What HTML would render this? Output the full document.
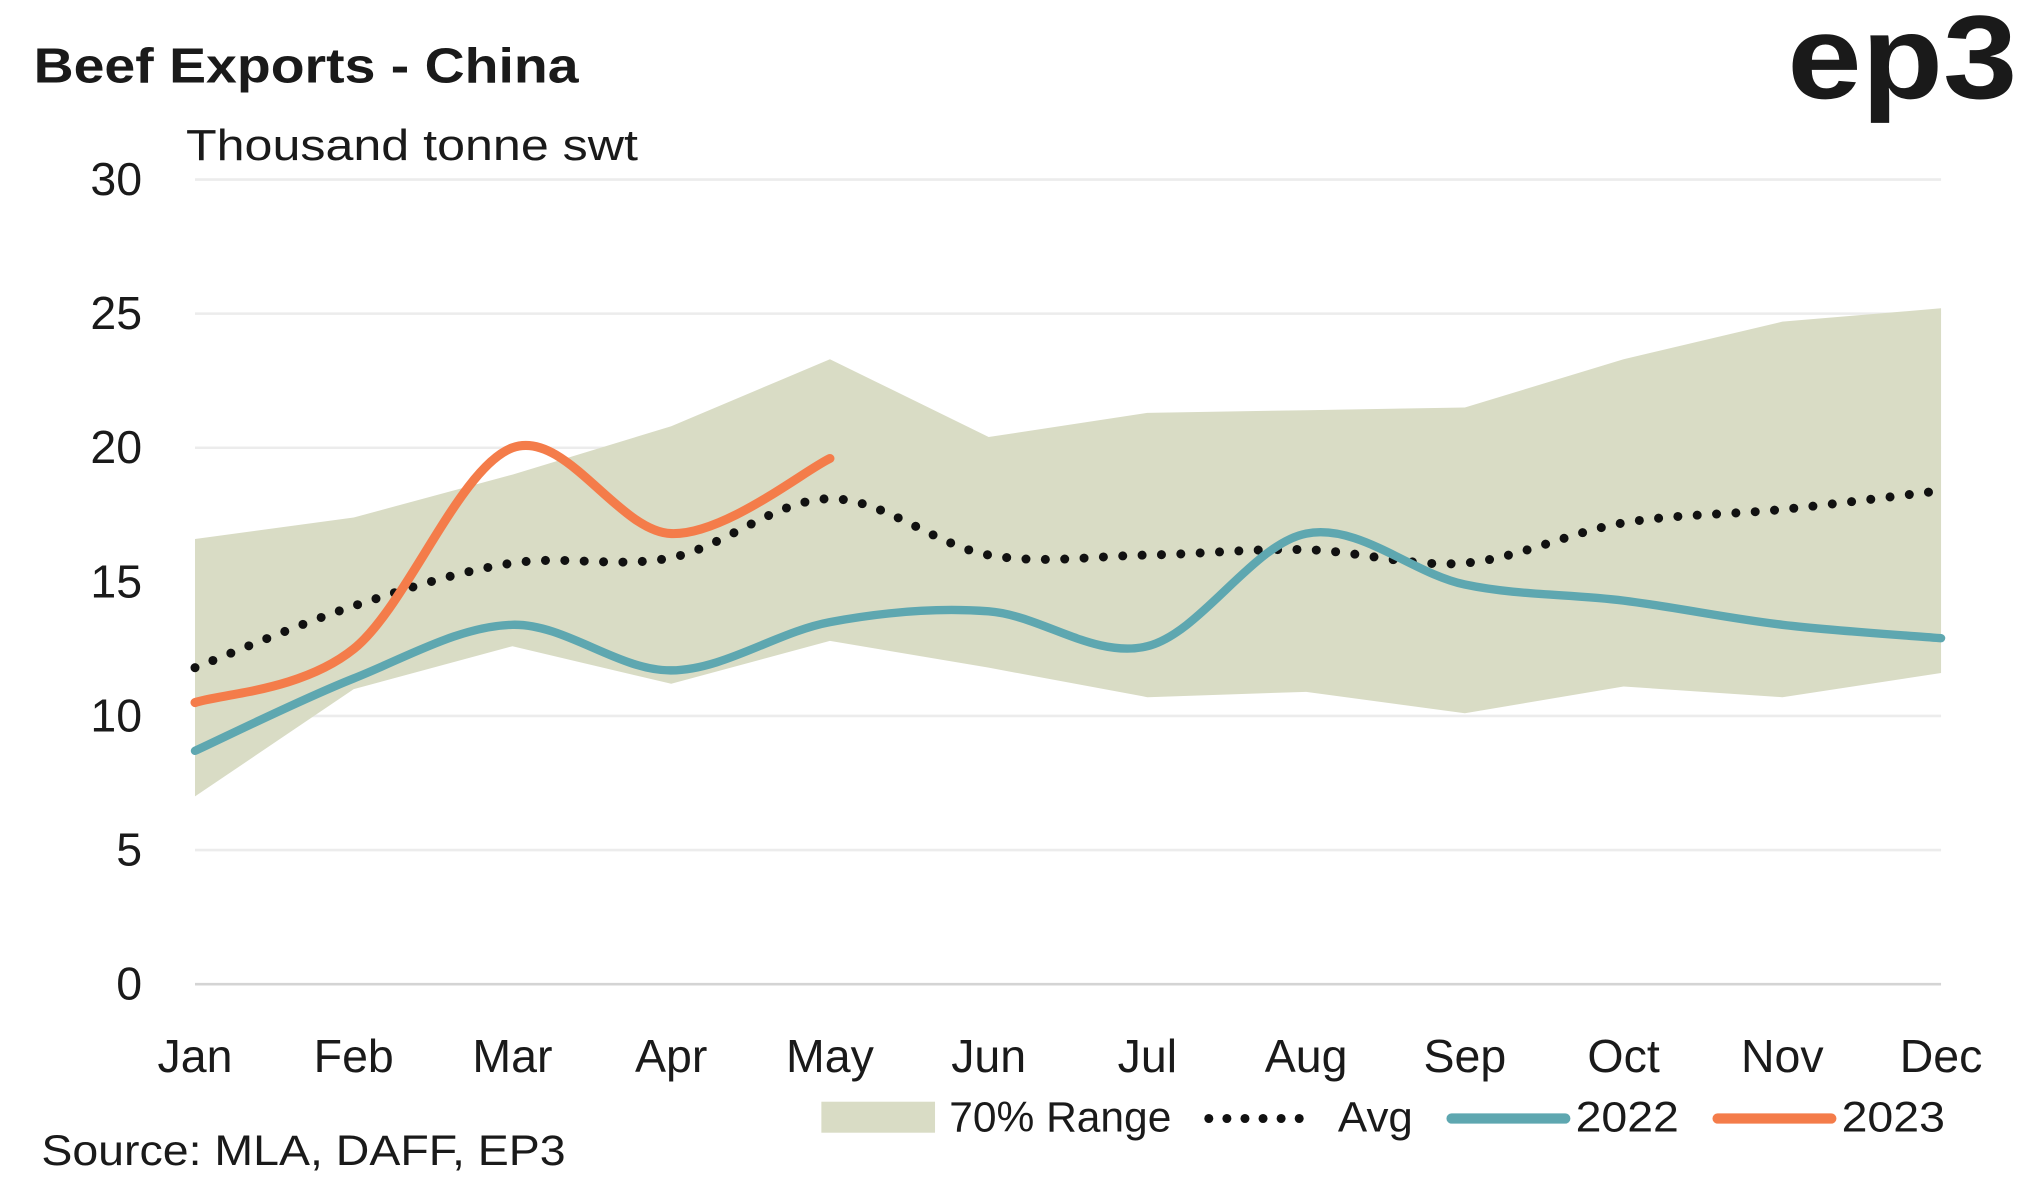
<!DOCTYPE html>
<html><head><meta charset="utf-8"><style>
html,body{margin:0;padding:0;background:#fff;}
svg{display:block;}
text{font-family:"Liberation Sans",sans-serif;fill:#1a1a1a;}
</style></head><body>
<svg id="chart" width="2025" height="1196" viewBox="0 0 1568 926" preserveAspectRatio="none">
<text x="26" y="64" font-size="38" font-weight="bold" textLength="422" lengthAdjust="spacingAndGlyphs">Beef Exports - China</text>
<text x="144" y="124" font-size="34" textLength="350" lengthAdjust="spacingAndGlyphs">Thousand tonne swt</text>
<text x="1384" y="76" font-size="92" font-weight="bold" textLength="178" lengthAdjust="spacingAndGlyphs" fill="#1a1a1a">ep3</text>
<g id="grid"></g><g id="plot"></g><g id="axes"></g>
<text x="32" y="902" font-size="33" textLength="406" lengthAdjust="spacingAndGlyphs">Source: MLA, DAFF, EP3</text>
<g>
<rect x="636" y="853" width="88" height="24" fill="#d9dcc5"/>
<text x="735" y="876" font-size="33" textLength="172" lengthAdjust="spacingAndGlyphs">70% Range</text>
<line x1="936" y1="866" x2="1020" y2="866" stroke="#111" stroke-width="7" stroke-linecap="round" stroke-dasharray="0 14"/>
<text x="1036" y="876" font-size="33" textLength="58" lengthAdjust="spacingAndGlyphs">Avg</text>
<line x1="1124" y1="866" x2="1212" y2="866" stroke="#5ea7b0" stroke-width="8" stroke-linecap="round"/>
<text x="1220" y="876" font-size="33" textLength="80" lengthAdjust="spacingAndGlyphs">2022</text>
<line x1="1330" y1="866" x2="1418" y2="866" stroke="#f47c4a" stroke-width="8" stroke-linecap="round"/>
<text x="1426" y="876" font-size="33" textLength="80" lengthAdjust="spacingAndGlyphs">2023</text>
</g>
</svg>
<script>
const months=["Jan","Feb","Mar","Apr","May","Jun","Jul","Aug","Sep","Oct","Nov","Dec"];
const yTicks=[0,5,10,15,20,25,30];
const rangeUpper=[16.6,17.4,19.0,20.8,23.3,20.4,21.3,21.4,21.5,23.3,24.7,25.2];
const rangeLower=[7.0,11.0,12.6,11.2,12.8,11.8,10.7,10.9,10.1,11.1,10.7,11.6];
const avg=[11.8,14.1,15.7,15.9,18.1,16.0,16.0,16.2,15.7,17.2,17.7,18.4];
const y2022=[8.7,11.4,13.4,11.7,13.5,13.9,12.6,16.8,14.9,14.3,13.4,12.9];
const y2023=[10.5,12.5,20.0,16.8,19.6];
const NS="http://www.w3.org/2000/svg";
const X0=151,X1=1503,Y0=762,Y1=139;
const xs=i=>X0+(X1-X0)*i/(months.length-1);
const ys=v=>Y0-(Y0-Y1)*v/30;
function mk(tag,attrs,parent){const e=document.createElementNS(NS,tag);for(const k in attrs)e.setAttribute(k,attrs[k]);document.getElementById(parent).appendChild(e);return e;}
function smooth(vals){const p=vals.map((v,i)=>[xs(i),ys(v)]);let d="M"+p[0][0]+","+p[0][1];
for(let i=0;i<p.length-1;i++){const a=p[i-1]||p[i],b=p[i],c=p[i+1],e=p[i+2]||c;
d+=" C"+(b[0]+(c[0]-a[0])/6)+","+(b[1]+(c[1]-a[1])/6)+" "+(c[0]-(e[0]-b[0])/6)+","+(c[1]-(e[1]-b[1])/6)+" "+c[0]+","+c[1];}return d;}
yTicks.forEach(t=>{
const l=mk("line",{x1:X0,x2:X1,y1:ys(t),y2:ys(t),stroke:t===0?"#d4d4d4":"#ececec","stroke-width":2},"grid");


const tx=mk("text",{x:110,y:ys(t)+12,"font-size":36,"text-anchor":"end"},"axes");tx.textContent=t;


});
months.forEach((m,i)=>{
const tx=mk("text",{x:xs(i),y:830,"font-size":36,"text-anchor":"middle"},"axes");tx.textContent=m;


});
let pts=rangeUpper.map((v,i)=>xs(i)+","+ys(v));
for(let i=rangeLower.length-1;i>=0;i--)pts.push(xs(i)+","+ys(rangeLower[i]));
const band=mk("polygon",{points:pts.join(" "),fill:"#d9dcc5"},"plot");


const a=mk("path",{d:smooth(avg),fill:"none",stroke:"#111","stroke-width":7,"stroke-linecap":"round","stroke-dasharray":"0 15"},"plot");


const l22=mk("path",{d:smooth(y2022),fill:"none",stroke:"#5ea7b0","stroke-width":6.5,"stroke-linecap":"round"},"plot");


const l23=mk("path",{d:smooth(y2023),fill:"none",stroke:"#f47c4a","stroke-width":7,"stroke-linecap":"round"},"plot");


</script>
</body></html>
